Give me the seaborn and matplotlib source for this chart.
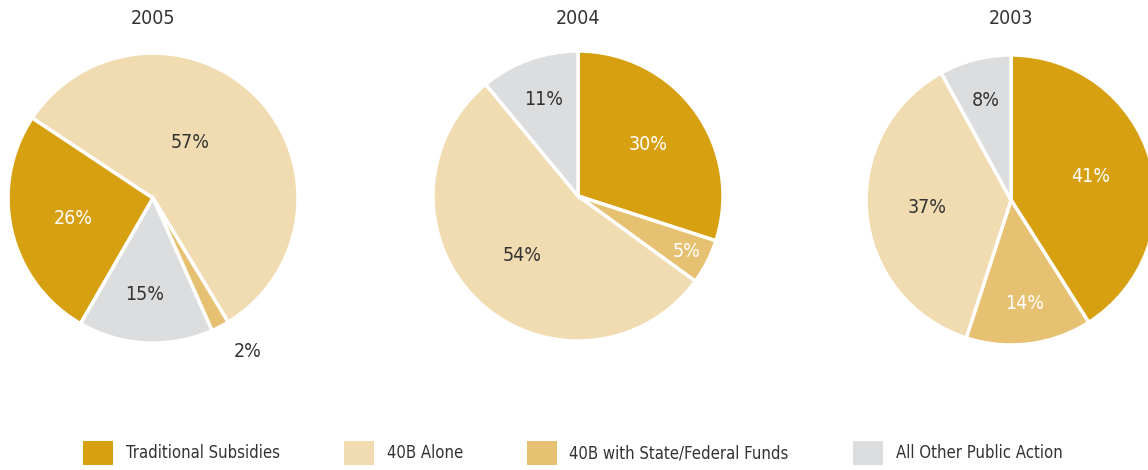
import matplotlib
matplotlib.use("Agg")
import numpy as np
import matplotlib.pyplot as plt
import seaborn as sns
from matplotlib.patches import Patch

sns.set_theme(style="white")
plt.rcParams['font.family'] = ['DejaVu Sans']
plt.rcParams['font.stretch'] = 'condensed'

categories = ['Traditional Subsidies', '40B Alone', '40B with State/Federal Funds', 'All Other Public Action']
years = ['2005', '2004', '2003']

# shares per year, in the order the slices run clockwise
order_2005 = [0, 1, 2, 3]
share_2005 = [26, 57, 2, 15]
order_2004 = [0, 2, 1, 3]
share_2004 = [30, 5, 54, 11]
order_2003 = [0, 2, 1, 3]
share_2003 = [41, 14, 37, 8]

colors = ['#D6A011', '#F1DCB1', '#E6C172', '#DCDDDF']
text_colors = ['white', '#333333', 'white', '#333333']

# (order, shares, start angle, label radius, label angle shift, axes rect)
pies = [
    (order_2005, share_2005, 240, [0.57, 0.46, 1.24, 0.67], [1, 12, 4, -2], [0.007, 0.270, 0.2526, 0.617]),
    (order_2004, share_2004, 90, [0.6, 0.84, 0.56, 0.71], [0, 0, 0, 0], [0.3772, 0.2745, 0.2526, 0.617]),
    (order_2003, share_2003, 90, [0.57, 0.72, 0.58, 0.71], [0, 0, 0, 0], [0.7544, 0.266, 0.2526, 0.617]),
]

fig = plt.figure(figsize=(11.48, 4.7), dpi=100)

for year, (order, share, start, dists, shifts, pos) in zip(years, pies):
    ax = fig.add_axes(pos)
    wedges, _ = ax.pie(share, colors=[colors[i] for i in order], startangle=start,
                       counterclock=False, radius=1,
                       wedgeprops=dict(edgecolor='white', linewidth=2.5))
    for w, v, i, d, s in zip(wedges, share, order, dists, shifts):
        mid = np.deg2rad((w.theta1 + w.theta2) / 2 + s)
        col = text_colors[i] if d < 1 else '#333333'
        ax.text(d * np.cos(mid), d * np.sin(mid), f"{v}%", ha='center', va='center',
                fontsize=14, color=col)
    ax.set_xlim(-1, 1)
    ax.set_ylim(-1, 1)
    ax.set_aspect('equal')
    ax.axis('off')
    fig.text(pos[0] + pos[2] / 2, 0.96, year, ha='center', va='center', fontsize=14, color='#333333')

handles = [Patch(facecolor=c, edgecolor='none') for c in colors]
leg = fig.legend(handles, categories, loc='center', bbox_to_anchor=(0.499, 0.036), ncol=4,
                 frameon=False, fontsize=12, handlelength=1.8, handleheight=1.8,
                 handletextpad=0.75, columnspacing=3.85)
for t in leg.get_texts():
    t.set_color('#333333')

fig.savefig('out.png', dpi=100)
